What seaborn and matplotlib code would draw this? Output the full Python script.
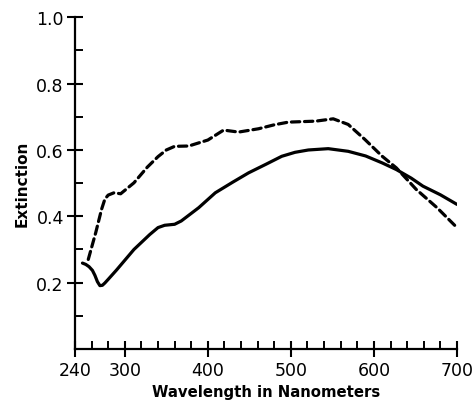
import matplotlib
matplotlib.use("Agg")
import matplotlib.pyplot as plt
import seaborn as sns
import pandas as pd
from matplotlib.ticker import MultipleLocator, FixedLocator

# Solid curve (wavelength nm, extinction)
solid_wl = [249, 253, 257, 261, 264, 267, 270, 273, 276, 280, 290, 311, 330, 340, 348, 360,
            368, 389, 409, 430, 449, 470, 489, 505, 521, 545, 569, 590, 610, 627, 645, 659,
            680, 700]
solid_ext = [0.259, 0.255, 0.248, 0.237, 0.222, 0.203, 0.191, 0.192, 0.199, 0.210, 0.238,
             0.300, 0.345, 0.366, 0.373, 0.376, 0.386, 0.426, 0.471, 0.503, 0.531, 0.557,
             0.581, 0.593, 0.600, 0.604, 0.596, 0.582, 0.561, 0.541, 0.515, 0.491, 0.465, 0.436]

# Dashed curve
dash_wl = [256, 265, 272, 276, 280, 287, 295, 311, 327, 340, 350, 360, 377, 400, 419, 437,
           461, 480, 497, 530, 551, 569, 589, 610, 627, 651, 676, 700]
dash_ext = [0.270, 0.351, 0.421, 0.452, 0.464, 0.471, 0.468, 0.501, 0.548, 0.580, 0.600,
            0.611, 0.612, 0.630, 0.660, 0.654, 0.664, 0.676, 0.684, 0.687, 0.694, 0.677,
            0.632, 0.581, 0.546, 0.481, 0.426, 0.366]

x_ticks = [240, 300, 400, 500, 600, 700]
y_ticks = [0.2, 0.4, 0.6, 0.8, 1.0]
y_tick_labels = ["0.2", "0.4", "0.6", "0.8", "1.0"]

sns.set_style("ticks")
plt.rcParams['font.family'] = ['DejaVu Sans']
plt.rcParams['text.color'] = 'black'
plt.rcParams['axes.labelcolor'] = 'black'

fig = plt.figure(figsize=(4.77, 4.02), dpi=100)
ax = fig.add_axes([0.1572, 0.1294, 0.8008, 0.825])

df_s = pd.DataFrame({"wl": solid_wl, "ext": solid_ext})
df_d = pd.DataFrame({"wl": dash_wl, "ext": dash_ext})

sns.lineplot(data=df_s, x="wl", y="ext", ax=ax, color="black", linewidth=2.3,
             solid_capstyle="round", solid_joinstyle="round")
sns.lineplot(data=df_d, x="wl", y="ext", ax=ax, color="black", linewidth=2.3,
             linestyle=(0, (2.6, 1.5)), dash_capstyle="round")

ax.set_xlim(240, 700)
ax.set_ylim(0, 1.0)
sns.despine(ax=ax)
for s in ["left", "bottom"]:
    ax.spines[s].set_linewidth(1.6)
    ax.spines[s].set_color("black")

ax.xaxis.set_major_locator(FixedLocator(x_ticks))
ax.xaxis.set_minor_locator(MultipleLocator(20))
ax.yaxis.set_major_locator(FixedLocator(y_ticks))
ax.set_yticklabels(y_tick_labels)
ax.yaxis.set_minor_locator(FixedLocator([0.1, 0.3, 0.5, 0.7, 0.9]))

ax.tick_params(axis="both", which="major", direction="inout", length=12, width=1.5,
               color="black", labelsize=12.5, labelcolor="black")
ax.tick_params(axis="both", which="minor", direction="in", length=6, width=1.4, color="black")
ax.tick_params(axis="x", which="major", pad=3)
ax.tick_params(axis="y", which="major", pad=2)

ax.set_xlabel("Wavelength in Nanometers", fontsize=10.7, fontweight="bold", labelpad=3,
              color="black")
ax.set_ylabel("Extinction", fontsize=11, fontweight="bold", labelpad=5, color="black")

fig.savefig("out.png", dpi=100)
